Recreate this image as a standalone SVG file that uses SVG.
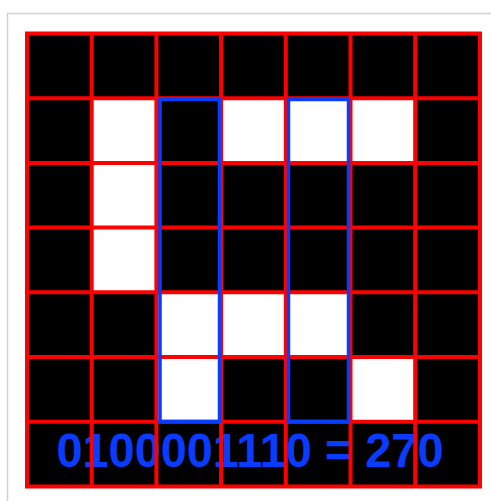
<svg xmlns="http://www.w3.org/2000/svg" width="491" height="501" viewBox="0 0 491 501">
<style>
.blk{fill:#000}
.wht{fill:#fff}
.grid{stroke:#ff0000;stroke-width:4;fill:none}
.sel{stroke:#0a3cff;stroke-width:3.5;fill:none}
.lbl{font-family:"Liberation Sans",Arial,sans-serif;font-weight:bold;font-size:48px;fill:#0a3cff}
</style>
<rect x="0" y="0" width="491" height="501" fill="#fff"/>
<rect x="7.5" y="13.5" width="500" height="500" fill="#fff" stroke="#d2d2d2" stroke-width="1.5"/>
<g id="board">
<rect class="blk" x="27" y="33.5" width="453" height="453"/>
<g id="white-cells" class="wht">
<rect x="91.7" y="98.2" width="64.7" height="64.7"/>
<rect x="221.1" y="98.2" width="64.7" height="64.7"/>
<rect x="285.8" y="98.2" width="64.7" height="64.7"/>
<rect x="350.5" y="98.2" width="64.7" height="64.7"/>
<rect x="91.7" y="162.9" width="64.7" height="64.7"/>
<rect x="91.7" y="227.6" width="64.7" height="64.7"/>
<rect x="156.4" y="292.3" width="64.7" height="64.7"/>
<rect x="221.1" y="292.3" width="64.7" height="64.7"/>
<rect x="285.8" y="292.3" width="64.7" height="64.7"/>
<rect x="156.4" y="357" width="64.7" height="64.7"/>
<rect x="350.5" y="357" width="64.7" height="64.7"/>
</g>
<g id="label">
<text class="lbl" x="250" y="467" text-anchor="middle" textLength="387" lengthAdjust="spacingAndGlyphs">0100001110 = 270</text>
</g>
<g id="grid-lines" class="grid">
<rect x="27" y="33.5" width="453" height="453"/>
<path d="M91.7 33.5V486.5M156.4 33.5V486.5M221.1 33.5V486.5M285.8 33.5V486.5M350.5 33.5V486.5M415.2 33.5V486.5"/>
<path d="M27 98.2H480M27 162.9H480M27 227.6H480M27 292.3H480M27 357H480M27 421.7H480"/>
</g>
</g>
<g id="selections">
<rect id="sel-col2" class="sel" x="160" y="99.5" width="59.5" height="322"/>
<rect id="sel-col4" class="sel" x="288.5" y="99.5" width="60" height="322"/>
</g>
</svg>
